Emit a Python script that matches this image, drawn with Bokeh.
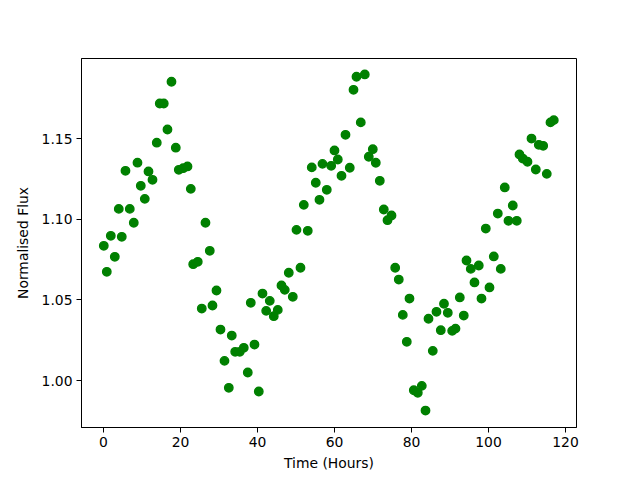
from bokeh.plotting import figure
from bokeh.models import Range1d, FixedTicker, NumeralTickFormatter, ColumnDataSource
from bokeh.embed import file_html
from bokeh.resources import INLINE

time_hours = [
    0.08, 0.86, 1.90, 2.94, 3.97, 4.75, 5.71, 6.83, 7.87, 8.83,
    9.69, 10.73, 11.69, 12.73, 13.84, 14.62, 15.66, 16.62, 17.66, 18.78,
    19.56, 20.70, 21.82, 22.68, 23.30, 24.49, 25.53, 26.49, 27.61, 28.31,
    29.35, 30.39, 31.43, 32.55, 33.32, 34.21, 35.40, 36.44, 37.48, 38.26,
    39.22, 40.34, 41.30, 42.26, 43.19, 44.23, 45.27, 46.23, 47.09, 48.13,
    49.17, 50.13, 51.17, 52.03, 53.06, 54.10, 55.14, 56.10, 56.88, 58.00,
    59.14, 60.00, 60.86, 61.82, 62.86, 63.97, 64.94, 65.71, 66.83, 67.87,
    68.91, 69.95, 70.73, 71.77, 72.81, 73.77, 74.81, 75.77, 76.70, 77.74,
    78.78, 79.48, 80.60, 81.64, 82.68, 83.64, 84.42, 85.53, 86.49, 87.61,
    88.44, 89.43, 90.57, 91.43, 92.55, 93.58, 94.29, 95.40, 96.36, 97.48,
    98.18, 99.30, 100.26, 101.38, 102.42, 103.19, 104.23, 105.19, 106.31, 107.35,
    108.05, 108.91, 110.13, 111.17, 112.29, 113.06, 114.21, 115.14, 116.10, 116.96,
]
normalised_flux = [
    1.0835, 1.0674, 1.0897, 1.0767, 1.1064, 1.0891, 1.1300, 1.1064, 1.0978, 1.1350,
    1.1207, 1.1126, 1.1296, 1.1244, 1.1474, 1.1717, 1.1717, 1.1556, 1.1852, 1.1443,
    1.1306, 1.1316, 1.1327, 1.1188, 1.0721, 1.0736, 1.0446, 1.0978, 1.0804, 1.0465,
    1.0558, 1.0316, 1.0122, 0.9955, 1.0279, 1.0178, 1.0178, 1.0203, 1.0050, 1.0482,
    1.0223, 0.9932, 1.0539, 1.0432, 1.0494, 1.0399, 1.0438, 1.0589, 1.0562, 1.0668,
    1.0519, 1.0934, 1.0699, 1.1089, 1.0928, 1.1321, 1.1226, 1.1120, 1.1343, 1.1182,
    1.1331, 1.1426, 1.1370, 1.1269, 1.1523, 1.1319, 1.1802, 1.1883, 1.1600, 1.1897,
    1.1387, 1.1434, 1.1350, 1.1238, 1.1060, 1.0994, 1.1023, 1.0699, 1.0626, 1.0407,
    1.0240, 1.0508, 0.9940, 0.9924, 0.9967, 0.9814, 1.0383, 1.0184, 1.0426, 1.0312,
    1.0476, 1.0420, 1.0308, 1.0322, 1.0515, 1.0403, 1.0744, 1.0692, 1.0608, 1.0713,
    1.0508, 1.0942, 1.0577, 1.0769, 1.1035, 1.0692, 1.1197, 1.0990, 1.1085, 1.0990,
    1.1401, 1.1376, 1.1356, 1.1500, 1.1308, 1.1461, 1.1455, 1.1281, 1.1600, 1.1614,
]
x_ticks = [0, 20, 40, 60, 80, 100, 120]
y_ticks = [1.00, 1.05, 1.10, 1.15]

source = ColumnDataSource(data=dict(t=time_hours, f=normalised_flux))

p = figure(
    output_backend="svg", toolbar_location=None,
    frame_width=495, frame_height=369,
    min_border_left=81, min_border_top=58, min_border_right=40, min_border_bottom=40,
    x_range=Range1d(-5.71, 122.86), y_range=Range1d(0.9709, 1.1996),
)
p.scatter("t", "f", source=source, size=8.4, fill_color="green", line_color="green",
          line_width=1.4, marker="circle")

p.xgrid.visible = False
p.ygrid.visible = False
p.outline_line_color = "black"
p.outline_line_width = 1
p.outline_line_alpha = 1

p.xaxis.ticker = FixedTicker(ticks=x_ticks)
p.yaxis.ticker = FixedTicker(ticks=y_ticks)
p.yaxis.formatter = NumeralTickFormatter(format="0.00")
p.xaxis.axis_label = "Time (Hours)"
p.yaxis.axis_label = "Normalised Flux"

for ax in (p.xaxis, p.yaxis):
    ax.axis_label_text_font = "DejaVu Sans"
    ax.axis_label_text_font_size = "13.9px"
    ax.axis_label_text_font_style = "normal"
    ax.axis_label_text_color = "black"
    ax.major_label_text_font = "DejaVu Sans"
    ax.major_label_text_font_size = "13.9px"
    ax.major_label_text_color = "black"
    ax.axis_line_color = "black"
    ax.major_tick_line_color = "black"
    ax.major_tick_out = 5
    ax.major_tick_in = 0
    ax.minor_tick_line_color = None
    ax.major_label_standoff = 4
p.xaxis.axis_label_standoff = 5
p.yaxis.axis_label_standoff = 8

p.background_fill_color = "white"
p.border_fill_color = "white"

open("out.html", "w").write(file_html(p, INLINE))
